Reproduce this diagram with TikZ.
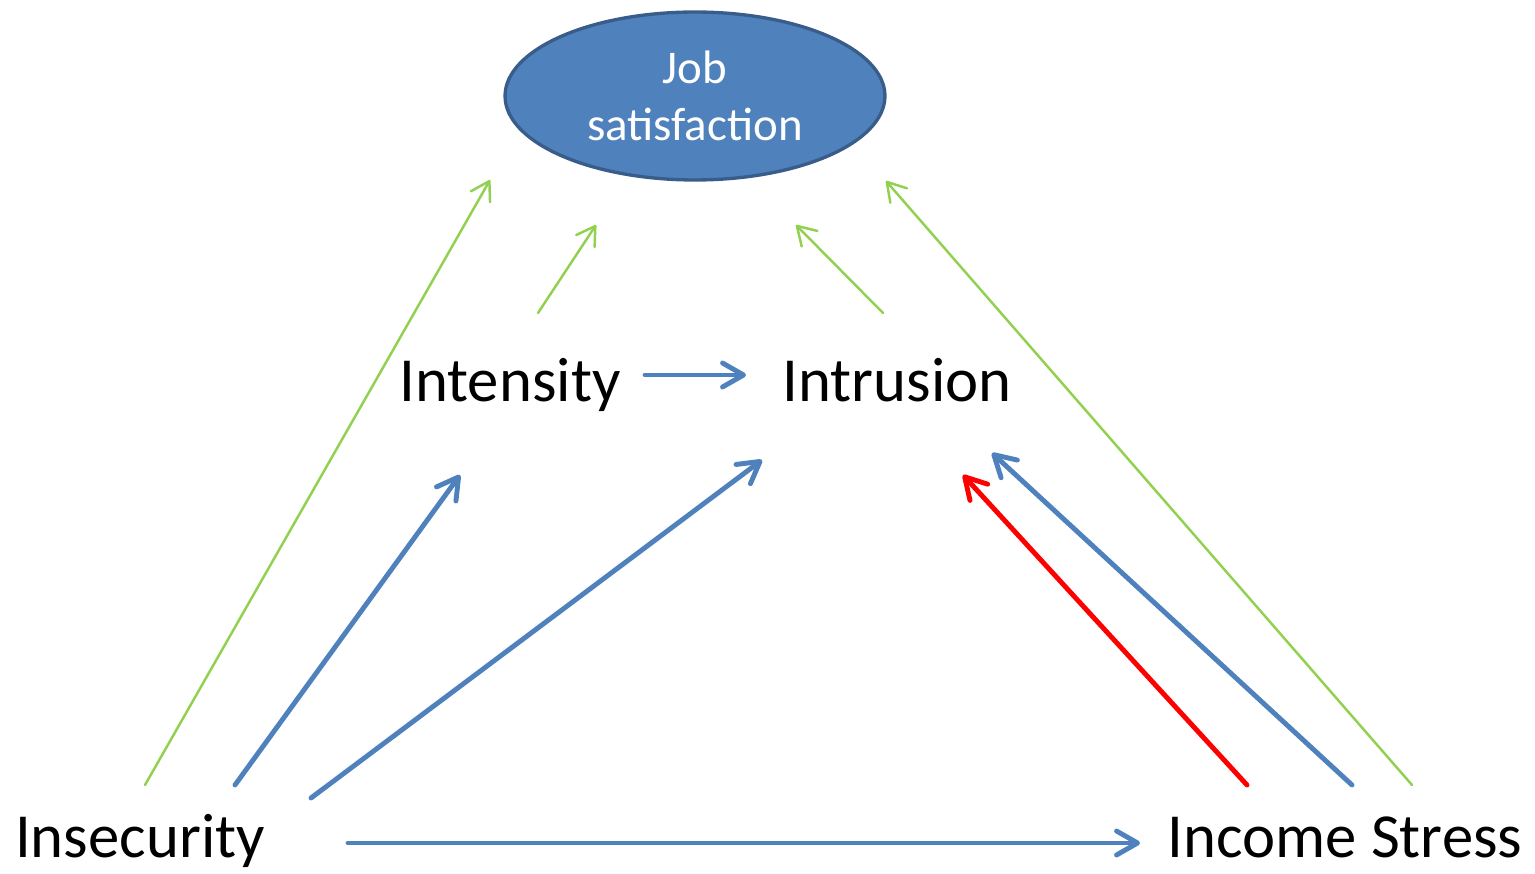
\documentclass[tikz,border=0pt]{standalone}
\usepackage{fontspec}
\setmainfont{Carlito}
\usetikzlibrary{shapes.geometric, arrows.meta, positioning}
\definecolor{boxblue}{HTML}{4F81BD}
\definecolor{edgeblue}{HTML}{385D8A}
\definecolor{leafgreen}{HTML}{92D050}

\begin{document}
\begin{tikzpicture}[x=0.02cm, y=-0.02cm]
% Define styles
\tikzstyle{outcome} = [ellipse, minimum width=7.6cm, minimum height=3.36cm, inner sep=0pt, align=center, draw=edgeblue, fill=boxblue, line width=1.9pt, text=white, font=\fontsize{26.7}{32}\selectfont]
\tikzstyle{factor} = [inner sep=0pt, anchor=base, font=\fontsize{35.7}{40}\selectfont]
\tikzstyle{direct} = [draw=leafgreen, line width=1.4pt, line cap=round, -{Straight Barb[length=0.36cm, width=0.44cm, round]}]
\tikzstyle{path} = [draw=boxblue, line width=2.8pt, line cap=round, -{Straight Barb[length=0.42cm, width=0.48cm, round]}]
\tikzstyle{negpath} = [path, draw=red]

\useasboundingbox (0,0) rectangle (1535,874);

% Nodes
\node (job) [outcome] at (695,96) {Job\\satisfaction};
\node (intensity) [factor] at (510,402) {Intensity};
\node (intrusion) [factor] at (897,402) {Intrusion};
\node (insecurity) [factor] at (140,857) {Insecurity};
\node (income) [factor] at (1345,857) {Income Stress};

% Arrow ends
\coordinate (ins-a) at (145,785);  \coordinate (job-a) at (490,180);
\coordinate (int-a) at (538,313);  \coordinate (job-b) at (596,225);
\coordinate (itr-a) at (883,313);  \coordinate (job-c) at (796,225);
\coordinate (inc-a) at (1412,785); \coordinate (job-d) at (886,181);
\coordinate (int-b) at (645,375);  \coordinate (itr-b) at (746,375);
\coordinate (ins-b) at (235,785);  \coordinate (int-c) at (460,475);
\coordinate (ins-c) at (311,798);  \coordinate (itr-c) at (762,460);
\coordinate (inc-b) at (1352,785); \coordinate (itr-d) at (992,453);
\coordinate (inc-c) at (1247,785); \coordinate (itr-e) at (963,475);
\coordinate (ins-d) at (348,843);  \coordinate (inc-d) at (1140,843);

% Arrows
\draw[direct] (ins-a) -- (job-a);
\draw[direct] (int-a) -- (job-b);
\draw[direct] (itr-a) -- (job-c);
\draw[direct] (inc-a) -- (job-d);
\draw[path] (int-b) -- (itr-b);
\draw[path] (ins-b) -- (int-c);
\draw[path] (ins-c) -- (itr-c);
\draw[path] (inc-b) -- (itr-d);
\draw[negpath] (inc-c) -- (itr-e);
\draw[path] (ins-d) -- (inc-d);
\end{tikzpicture}
\end{document}
